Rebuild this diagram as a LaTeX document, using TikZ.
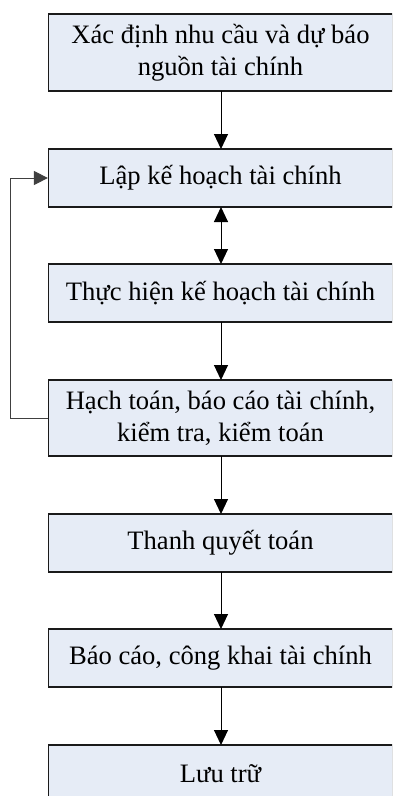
\documentclass[tikz,border=0pt]{standalone}
\usepackage{fontspec}
\setmainfont{Liberation Serif}
\usetikzlibrary{arrows.meta}
\definecolor{boxfill}{HTML}{E6ECF6}
\definecolor{boxline}{HTML}{1A1A1A}
\begin{document}
\begin{tikzpicture}[x=1pt,y=1pt,
  tip/.style={},
  box/.style={draw=boxline, line width=1.2pt, fill=boxfill, minimum width=344pt,
    inner sep=0pt, align=center, font=\fontsize{26.6}{32}\selectfont, text=black},
  conn/.style={draw=black, line width=1pt, -{Triangle[width=14pt,length=15pt]}},
  conn2/.style={draw=black, line width=1pt, {Triangle[width=14pt,length=15pt]}-{Triangle[width=14pt,length=15pt]}},
  fb/.style={draw=black!75, line width=1pt, -{Triangle[width=14pt,length=14pt]}}]
\useasboundingbox (0,0) rectangle (392,-796);
\clip (0,0) rectangle (392,-796);
\fill[white] (0,0) rectangle (392,-796);
\node[box, minimum height=77pt] (b1) at (220.5,-52.5) {Xác định nhu cầu và dự báo\\nguồn tài chính};
\node[box, minimum height=58pt] (b2) at (220.5,-178) {Lập kế hoạch tài chính};
\node[box, minimum height=58pt] (b3) at (220.5,-293) {Thực hiện kế hoạch tài chính};
\node[box, minimum height=76pt] (b4) at (220.5,-418) {Hạch toán, báo cáo tài chính,\\kiểm tra, kiểm toán};
\node[box, minimum height=58pt] (b5) at (220.5,-543) {Thanh quyết toán};
\node[box, minimum height=58pt] (b6) at (220.5,-658) {Báo cáo, công khai tài chính};
\node[box, minimum height=58pt] (b7) at (220.5,-774) {Lưu trữ};
\coordinate (fbl) at (10,-418);
\coordinate (fbu) at (10,-178);
\draw[conn] (221,-91) -- (221,-149);
\draw[conn2] (221,-207) -- (221,-264);
\draw[conn] (221,-322) -- (221,-380);
\draw[conn] (221,-456) -- (221,-514);
\draw[conn] (221,-572) -- (221,-629);
\draw[conn] (221,-687) -- (221,-745);
\draw[fb] (b4.west) -- (fbl) -- (fbu) -- (b2.west);
\end{tikzpicture}
\end{document}
